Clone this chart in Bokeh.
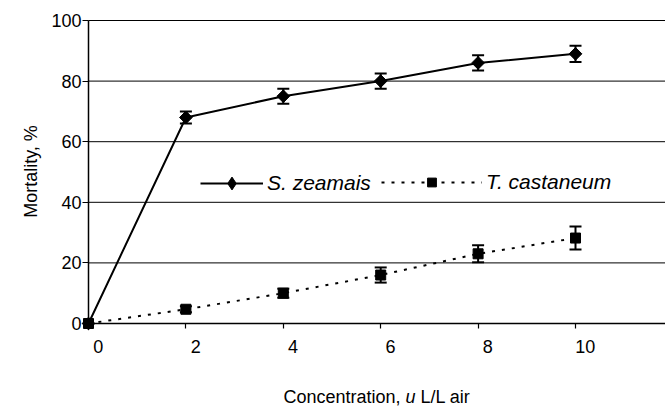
import math
from bokeh.plotting import figure
from bokeh.models import (Range1d, LinearAxis, FixedTicker, Legend, LegendItem,
                          Whisker, TeeHead, ColumnDataSource, Label)
from bokeh.embed import file_html
from bokeh.resources import INLINE

# ---- data ----
concentration = [0, 2, 4, 6, 8, 10]
zeamais = [0, 68, 75, 80, 86, 89]
zeamais_err = [0, 2, 2.5, 2.5, 2.5, 2.7]
castaneum = [0, 4.7, 10, 16, 23, 28.2]
castaneum_err = [0, 1, 1.5, 2.5, 2.8, 3.8]
x_tick_marks = [2, 4, 6, 8, 10]
x_tick_labels = [0, 2, 4, 6, 8, 10]
y_ticks = [0, 20, 40, 60, 80, 100]

FONT = "Liberation Sans"

# ---- layout (frame covers the whole canvas; axes are fixed inside it) ----
PX_X = 48.7      # pixels per x unit
PX_Y = 3.03      # pixels per y unit
W, H = 665, 408
OX, OY = 88, 323  # pixel position of the origin
x0 = -OX / PX_X
x1 = (W - OX) / PX_X
y0 = -(H - OY) / PX_Y
y1 = OY / PX_Y

p = figure(width=W, height=H, x_range=Range1d(x0, x1), y_range=Range1d(y0, y1),
           output_backend="svg", toolbar_location=None,
           x_axis_type=None, y_axis_type=None,
           min_border_left=0, min_border_right=0, min_border_top=0, min_border_bottom=0)
p.outline_line_color = None
p.background_fill_color = "white"
p.border_fill_color = "white"
p.grid.visible = False

# gridlines (from the y axis to the right)
gy = y_ticks[1:]
p.segment(x0=[0] * len(gy), y0=gy, x1=[x1] * len(gy), y1=gy, line_color="black", line_width=1)

# y axis
yax = LinearAxis(fixed_location=0, ticker=FixedTicker(ticks=y_ticks), bounds=(0, 100))
yax.major_tick_out = 6
yax.major_tick_in = 0
yax.minor_tick_line_color = None
yax.axis_line_width = 1.5
yax.major_tick_line_width = 1.2
yax.major_label_text_font = FONT
yax.major_label_text_font_size = "18px"
yax.major_label_text_color = "black"
yax.major_label_standoff = 1
p.add_layout(yax, "left")

# x axis (line and tick marks)
xax = LinearAxis(fixed_location=0, ticker=FixedTicker(ticks=x_tick_marks), bounds=(0, x1))
xax.major_tick_out = 5
xax.major_tick_in = 0
xax.minor_tick_line_color = None
xax.axis_line_width = 1.5
xax.major_tick_line_width = 1.2
xax.major_label_text_color = None
p.add_layout(xax, "below")

# x axis (labels, slightly right of the ticks as in the original)
p.extra_x_ranges = {"lab": Range1d(x0 - 0.2, x1 - 0.2)}
lax = LinearAxis(x_range_name="lab", fixed_location=0, ticker=FixedTicker(ticks=x_tick_labels))
lax.axis_line_color = None
lax.major_tick_line_color = None
lax.minor_tick_line_color = None
lax.major_tick_out = 0
lax.major_tick_in = 0
lax.major_label_standoff = 16
lax.major_label_text_font = FONT
lax.major_label_text_font_size = "18px"
lax.major_label_text_color = "black"
p.add_layout(lax, "below")

# series
l1 = p.line(concentration, zeamais, line_color="black", line_width=2)
m1_leg = p.scatter(concentration, zeamais, marker="diamond", size=12,
                   fill_color="black", line_color="black")
m1 = p.scatter(concentration, zeamais, marker="square", angle=math.pi / 4, size=9,
               fill_color="black", line_color="black")
l2 = p.line(concentration, castaneum, line_color="black", line_width=2, line_dash="3 7")
m2 = p.scatter(concentration, castaneum, marker="square", size=10,
               fill_color="black", line_color="black")

# error bars
src_s = ColumnDataSource(dict(
    x=concentration[1:],
    lo=[v - e for v, e in zip(zeamais[1:], zeamais_err[1:])],
    hi=[v + e for v, e in zip(zeamais[1:], zeamais_err[1:])]))
src_t = ColumnDataSource(dict(
    x=concentration[1:],
    lo=[v - e for v, e in zip(castaneum[1:], castaneum_err[1:])],
    hi=[v + e for v, e in zip(castaneum[1:], castaneum_err[1:])]))
for src in (src_s, src_t):
    w = Whisker(source=src, base="x", upper="hi", lower="lo", line_width=2, line_color="black",
                upper_head=TeeHead(size=12, line_width=2, line_color="black"),
                lower_head=TeeHead(size=12, line_width=2, line_color="black"))
    p.add_layout(w)

# legends (location measured from the bottom-left of the canvas)
common = dict(orientation="horizontal", label_standoff=4, padding=0, margin=0,
              spacing=0, background_fill_alpha=0, border_line_color=None,
              label_text_font=FONT, label_text_font_style="italic",
              label_text_font_size="21px", label_text_color="black")
leg1 = Legend(items=[LegendItem(label="S. zeamais", renderers=[l1, m1_leg])],
              location=(200, 209), glyph_width=63, glyph_height=32, label_height=32, **common)
leg2 = Legend(items=[LegendItem(label="T. castaneum", renderers=[l2, m2])],
              location=(381, 214), glyph_width=101, glyph_height=22, label_height=22, **common)
p.add_layout(leg1)
p.add_layout(leg2)

# axis titles
p.add_layout(Label(x=(30 - OX) / PX_X, y=(OY - 171) / PX_Y, text="Mortality, %", angle=math.pi / 2,
                   text_align="center", text_baseline="middle",
                   text_font=FONT, text_font_size="18px", text_color="black"))
ux = (410 - OX) / PX_X
ty = (OY - 396) / PX_Y
for txt, off, align, style in (("Concentration,", -10, "right", "normal"),
                                ("u", 0, "center", "italic"),
                                ("L/L air", 10, "left", "normal")):
    p.add_layout(Label(x=ux, y=ty, x_offset=off, text=txt, text_align=align,
                       text_baseline="middle", text_font=FONT, text_font_size="18px",
                       text_font_style=style, text_color="black"))

open("out.html", "w").write(file_html(p, INLINE))
